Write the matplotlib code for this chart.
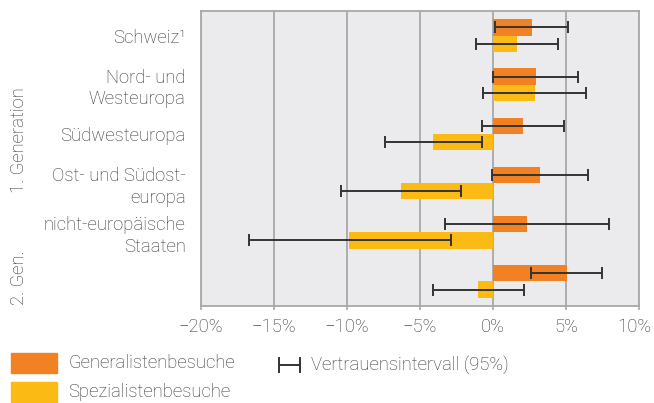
import numpy as np
import matplotlib
matplotlib.use('Agg')
import matplotlib.pyplot as plt
import matplotlib.transforms as mtransforms
from matplotlib.patches import Rectangle
from matplotlib.lines import Line2D

# =============================================================================
# Data (percent)
# =============================================================================
groups = ['Schweiz¹', 'Nord- und\nWesteuropa', 'Südwesteuropa',
          'Ost- und Südost-\neuropa', 'nicht-europäische\nStaaten', '']

gen_val = [2.67, 2.95, 2.05, 3.22, 2.33, 5.07]
gen_lo = [0.14, 0.02, -0.75, -0.05, -3.26, 2.63]
gen_hi = [5.16, 5.84, 4.84, 6.53, 7.95, 7.44]

spez_val = [1.64, 2.88, -4.09, -6.28, -9.84, -1.0]
spez_lo = [-1.14, -0.66, -7.40, -10.39, -16.71, -4.09]
spez_hi = [4.45, 6.35, -0.75, -2.17, -2.88, 2.12]

xticks = [-20, -15, -10, -5, 0, 5, 10]
xticklabels = ['\u221220%', '\u221215%', '\u221210%', '\u22125%', '0%', '5%', '10%']

c_gen = '#f28123'
c_spez = '#fbba14'
c_txt = '#333333'
c_grid = '#a8a8a8'

plt.rcParams['font.family'] = ['Roboto', 'DejaVu Sans']
plt.rcParams['font.weight'] = 'light'
plt.rcParams['font.size'] = 13.3

# =============================================================================
# Plot
# =============================================================================
W, H = 654, 403
fig = plt.figure(figsize=(6.54, 4.03), dpi=100)
ax = fig.add_axes([201/W, 1 - 306/H, 438/W, 295/H])
ax.set_facecolor('#ebebed')

y = np.arange(len(groups))
h = 0.333
ax.barh(y - h/2, gen_val, height=h, color=c_gen, zorder=2)
ax.barh(y + h/2, spez_val, height=h, color=c_spez, zorder=2)

g = np.array(gen_val); s = np.array(spez_val)
ax.errorbar(g, y - h/2, xerr=[g - np.array(gen_lo), np.array(gen_hi) - g],
            fmt='none', ecolor='#333333', elinewidth=1.4, capsize=4, capthick=1.4, zorder=3)
ax.errorbar(s, y + h/2, xerr=[s - np.array(spez_lo), np.array(spez_hi) - s],
            fmt='none', ecolor='#333333', elinewidth=1.4, capsize=4, capthick=1.4, zorder=3)

ax.set_xlim(-20, 10)
ax.set_ylim(len(groups) - 0.5, -0.5)
ax.set_xticks(xticks)
ax.set_xticklabels(xticklabels, color=c_txt)
ax.set_yticks(y)
ax.set_yticklabels(groups, color=c_txt, linespacing=1.25)
ax.tick_params(axis='y', length=0, pad=11)
ax.tick_params(axis='x', length=3, color=c_grid, width=1.2, pad=6)
ax.grid(axis='x', color=c_grid, linewidth=1.3, zorder=1)
for sp in ax.spines.values():
    sp.set_color(c_grid)
    sp.set_linewidth(1.3)

# keep "10%" inside the figure
last = ax.get_xticklabels()[-1]
last.set_transform(last.get_transform() + mtransforms.ScaledTranslation(-5/100, 0, fig.dpi_scale_trans))

# Group labels
fig.text(19/W, 1 - 140/H, '1. Generation', rotation=90, ha='center', va='center', color=c_txt)
fig.text(19/W, 1 - 278/H, '2. Gen.', rotation=90, ha='center', va='center', color=c_txt)

# Legend (manual)
fig.patches.append(Rectangle((11/W, 1 - 373/H), 46/W, 20/H, color=c_gen, transform=fig.transFigure))
fig.patches.append(Rectangle((11/W, 1 - 403/H), 46/W, 21/H, color=c_spez, transform=fig.transFigure))
fig.text(68/W, 1 - 363/H, 'Generalistenbesuche', va='center', color=c_txt)
fig.text(68/W, 1 - 392/H, 'Spezialistenbesuche', va='center', color=c_txt)
for xs, ys in [([279, 300], [365, 365]), ([279, 279], [358, 372]), ([300, 300], [358, 372])]:
    fig.lines.append(Line2D([v/W for v in xs], [1 - v/H for v in ys], color='#333333',
                            linewidth=1.4, transform=fig.transFigure))
fig.text(311/W, 1 - 365/H, 'Vertrauensintervall (95%)', va='center', color=c_txt)

fig.savefig('out.png', dpi=100)
